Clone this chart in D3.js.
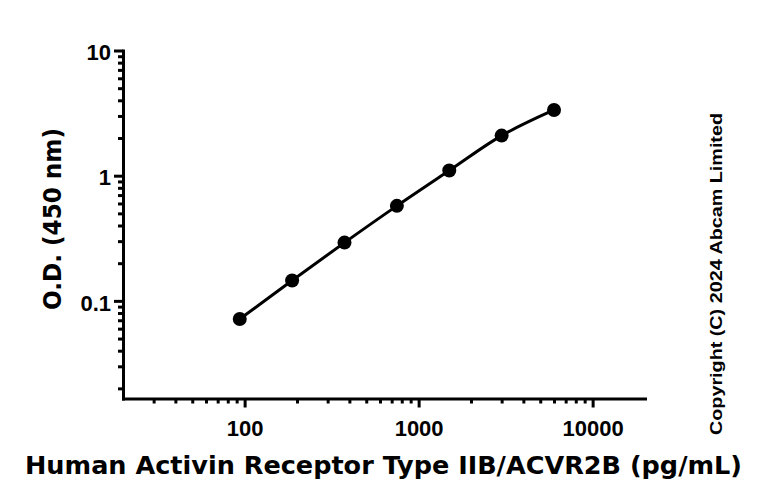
<!DOCTYPE html>
<html>
<head>
<meta charset="utf-8">
<script src="https://cdn.jsdelivr.net/npm/d3@7"></script>
<style>
  body { margin: 0; background: #fff; }
  svg { display: block; }
</style>
</head>
<body>
<svg width="768" height="504"></svg>
<script>
// standard curve, concentration in pg/mL and O.D. at 450 nm
const concentrations = [93.75, 187.5, 375, 750, 1500, 3000, 6000];
const odValues = [0.0716, 0.1455, 0.292, 0.574, 1.099, 2.09, 3.35];

const xMajor = [100, 1000, 10000];
const xMinor = [30, 40, 50, 60, 70, 80, 90, 200, 300, 400, 500, 600, 700, 800, 900,
                2000, 3000, 4000, 5000, 6000, 7000, 8000, 9000];
const yMajor = [0.1, 1, 10];
const yMinor = [0.02, 0.03, 0.04, 0.05, 0.06, 0.07, 0.08, 0.09,
                0.2, 0.3, 0.4, 0.5, 0.6, 0.7, 0.8, 0.9,
                2, 3, 4, 5, 6, 7, 8, 9];

const xTitle = "Human Activin Receptor Type IIB/ACVR2B (pg/mL)";
const yTitle = "O.D. (450 nm)";
const copyright = "Copyright (C) 2024 Abcam Limited";

const sansFont = "'Liberation Sans', Arial, Helvetica, sans-serif";
const titleFont = "'DejaVu Sans', Verdana, sans-serif";

function drawChart(){
    const svg = d3.select("svg");

    const x = d3.scaleLog().domain([20, 20000]).range([123, 645]);
    const y = d3.scaleLog().domain([0.0166, 10]).range([398.5, 50.5]);

    // minor ticks first, no labels
    svg.append("g")
        .attr("transform", "translate(0,398.5)")
        .call(d3.axisBottom(x).tickValues(xMinor).tickSize(5).tickSizeOuter(0).tickFormat(""))
        .call(g => g.select(".domain").remove());
    svg.append("g")
        .attr("transform", "translate(123,0)")
        .call(d3.axisLeft(y).tickValues(yMinor).tickSize(5).tickSizeOuter(0).tickFormat(""))
        .call(g => g.select(".domain").remove());

    const xAxis = svg.append("g")
        .attr("transform", "translate(0,398.5)")
        .call(d3.axisBottom(x).tickValues(xMajor).tickSize(9).tickSizeOuter(0)
            .tickPadding(13).tickFormat(d3.format("d")));
    const yAxis = svg.append("g")
        .attr("transform", "translate(123,0)")
        .call(d3.axisLeft(y).tickValues(yMajor).tickSize(9).tickSizeOuter(0)
            .tickPadding(3).tickFormat(d => d < 1 ? d.toString() : d3.format("d")(d)));

    svg.selectAll(".tick text")
        .style("font-family", sansFont)
        .style("font-weight", "bold")
        .style("font-size", "22px")
        .attr("fill", "#000");
    yAxis.selectAll(".tick text").attr("dy", "0.42em");

    svg.selectAll(".domain").attr("stroke", "#000").attr("stroke-width", 3)
        .attr("stroke-linecap", "square");
    svg.selectAll(".tick line").attr("stroke", "#000").attr("stroke-width", 3);

    const pts = concentrations.map((c, i) => [x(c), y(odValues[i])]);

    svg.append("path")
        .attr("d", d3.line().curve(d3.curveCatmullRom.alpha(0.5))(pts))
        .attr("fill", "none")
        .attr("stroke", "#000")
        .attr("stroke-width", 3);

    svg.selectAll(".pt")
        .data(pts)
        .enter().append("circle")
        .attr("class", "pt")
        .attr("cx", d => d[0])
        .attr("cy", d => d[1])
        .attr("r", 7)
        .attr("fill", "#000");

    svg.append("text")
        .attr("x", 25)
        .attr("y", 474)
        .style("font-family", titleFont)
        .style("font-weight", "bold")
        .style("font-size", "24px")
        .attr("textLength", 717)
        .attr("lengthAdjust", "spacingAndGlyphs")
        .text(xTitle);

    svg.append("text")
        .attr("transform", "translate(61,219) rotate(-90)")
        .attr("text-anchor", "middle")
        .style("font-family", titleFont)
        .style("font-weight", "bold")
        .style("font-size", "24px")
        .attr("textLength", 182)
        .attr("lengthAdjust", "spacingAndGlyphs")
        .text(yTitle);

    svg.append("text")
        .attr("transform", "translate(722,274) rotate(-90)")
        .attr("text-anchor", "middle")
        .style("font-family", sansFont)
        .style("font-weight", "bold")
        .style("font-size", "16px")
        .attr("textLength", 322)
        .attr("lengthAdjust", "spacingAndGlyphs")
        .text(copyright);
}

drawChart();
</script>
</body>
</html>
